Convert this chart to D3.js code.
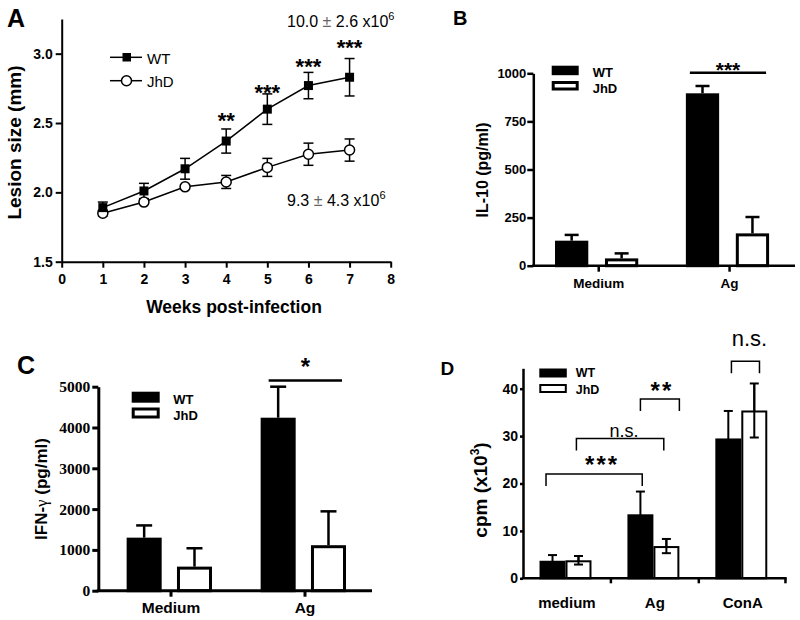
<!DOCTYPE html>
<html><head><meta charset="utf-8">
<script src="https://cdn.jsdelivr.net/npm/d3@7"></script>
<style>body{margin:0;background:#fff} svg{display:block;background:#fff}</style>
</head><body><svg id="c" width="800" height="620"></svg>
<script>
// ---------- Panel A data ----------
const weeks = [1, 2, 3, 4, 5, 6, 7];
const wtLesion = [1.89, 2.01, 2.17, 2.37, 2.60, 2.77, 2.83];
const wtLesionErr = [0.04, 0.055, 0.075, 0.087, 0.11, 0.095, 0.135];
const jhdLesion = [1.85, 1.93, 2.04, 2.075, 2.18, 2.275, 2.305];
const jhdLesionErr = [0.02, 0.015, 0.015, 0.047, 0.065, 0.08, 0.08];
const sigWeeks = [4, 5, 6, 7];
const sigLabelsA = ["**", "***", "***", "***"];
const sigLevelsA = [2.55, 2.75, 2.94, 3.075];
const xTicksA = [0, 1, 2, 3, 4, 5, 6, 7, 8];
const yTicksA = [1.5, 2.0, 2.5, 3.0];

// ---------- Panel B data ----------
const catsB = ["Medium", "Ag"];
const wtIL10 = [130, 896];
const wtIL10Err = [30, 38];
const jhdIL10 = [38, 168];
const jhdIL10Err = [26, 85];
const yTicksB = [0, 250, 500, 750, 1000];

// ---------- Panel C data ----------
const catsC = ["Medium", "Ag"];
const wtIFN = [1300, 4240];
const wtIFNErr = [300, 760];
const jhdIFN = [590, 1115];
const jhdIFNErr = [450, 830];
const yTicksC = [0, 1000, 2000, 3000, 4000, 5000];

// ---------- Panel D data ----------
const catsD = ["medium", "Ag", "ConA"];
const wtCpm = [3.7, 13.5, 29.5];
const wtCpmErr = [1.2, 4.8, 5.8];
const jhdCpm = [3.8, 6.8, 35.4];
const jhdCpmErr = [0.9, 1.5, 5.7];
const yTicksD = [0, 10, 20, 30, 40];

const groups = ["WT", "JhD"];
const SANS = "'Liberation Sans', Arial, Helvetica, sans-serif";
const SERIF = "'Liberation Serif', 'Times New Roman', serif";

const svg = d3.select("#c");

function styleAxis(g, sw, font, size, weight) {
  g.attr("font-family", null).attr("font-size", null);
  g.select(".domain").attr("stroke-width", sw).attr("stroke", "#000");
  g.selectAll(".tick line").attr("stroke-width", sw).attr("stroke", "#000");
  g.selectAll(".tick text").attr("font-family", font).attr("font-size", size)
    .attr("font-weight", weight).attr("fill", "#000");
}

function txt(g, x, y, s, size, weight, anchor, font) {
  return g.append("text").attr("x", x).attr("y", y).text(s)
    .attr("font-family", font || SANS).attr("font-size", size)
    .attr("font-weight", weight || "normal").attr("text-anchor", anchor || "start").attr("fill", "#000");
}

// ================= PANEL A =================
(function () {
  const g = svg.append("g");
  const x = d3.scaleLinear([0, 8], [61.7, 390.7]);
  const y = d3.scaleLinear([1.5, 3.25], [261.7, 19]);

  const ax = g.append("g").attr("transform", "translate(0,261.7)")
    .call(d3.axisBottom(x).tickValues(xTicksA).tickFormat(d3.format("d")).tickSize(6).tickPadding(6).tickSizeOuter(0));
  styleAxis(ax, 2, SANS, 14, "bold");
  const ay = g.append("g").attr("transform", "translate(61.7,0)")
    .call(d3.axisLeft(y).tickValues(yTicksA).tickFormat(d3.format(".1f")).tickSize(6).tickPadding(3).tickSizeOuter(0));
  styleAxis(ay, 2, SANS, 14, "bold");

  const line = d3.line().x((d, i) => x(weeks[i])).y(d => y(d));
  const series = [
    { v: jhdLesion, e: jhdLesionErr, kind: "circle" },
    { v: wtLesion, e: wtLesionErr, kind: "square" }
  ];
  series.forEach(s => {
    weeks.forEach((w, i) => {
      const cx = x(w), y1 = y(s.v[i] - s.e[i]), y2 = y(s.v[i] + s.e[i]);
      g.append("line").attr("x1", cx).attr("x2", cx).attr("y1", y1).attr("y2", y2).attr("stroke", "#000").attr("stroke-width", 1.5);
      [y1, y2].forEach(yy => g.append("line").attr("x1", cx - 5).attr("x2", cx + 5).attr("y1", yy).attr("y2", yy).attr("stroke", "#000").attr("stroke-width", 1.5));
    });
    g.append("path").attr("d", line(s.v)).attr("fill", "none").attr("stroke", "#000").attr("stroke-width", 1.5);
  });
  series.forEach(s => {
    weeks.forEach((w, i) => {
      if (s.kind === "square") {
        g.append("rect").attr("x", x(w) - 4.5).attr("y", y(s.v[i]) - 4.5).attr("width", 9).attr("height", 9).attr("fill", "#000");
      } else {
        g.append("circle").attr("cx", x(w)).attr("cy", y(s.v[i])).attr("r", 5).attr("fill", "#fff").attr("stroke", "#000").attr("stroke-width", 1.5);
      }
    });
  });

  sigWeeks.forEach((w, i) => {
    txt(g, x(w), y(sigLevelsA[i]), sigLabelsA[i], 22, "bold", "middle").attr("dy", "0.55em");
  });

  // legend
  g.append("line").attr("x1", 110).attr("x2", 142).attr("y1", 57.3).attr("y2", 57.3).attr("stroke", "#000").attr("stroke-width", 1.5);
  g.append("rect").attr("x", 122.5).attr("y", 53).attr("width", 8.5).attr("height", 8.5).attr("fill", "#000");
  txt(g, 147, 63.5, "WT", 15);
  g.append("line").attr("x1", 110).attr("x2", 142).attr("y1", 80.7).attr("y2", 80.7).attr("stroke", "#000").attr("stroke-width", 1.5);
  g.append("circle").attr("cx", 126.5).attr("cy", 80.7).attr("r", 5).attr("fill", "#fff").attr("stroke", "#000").attr("stroke-width", 1.5);
  txt(g, 147, 87, "JhD", 15);

  // annotations
  const t1 = txt(g, 287, 27, "10.0 ", 16);
  t1.append("tspan").attr("fill", "#666").text("±");
  t1.append("tspan").text(" 2.6 x10");
  t1.append("tspan").attr("font-size", 11).attr("dy", -7).text("6");
  const t2 = txt(g, 287, 205.5, "9.3 ", 16);
  t2.append("tspan").attr("fill", "#666").text("±");
  t2.append("tspan").text(" 4.3 x10");
  t2.append("tspan").attr("font-size", 11).attr("dy", -7).text("6");

  txt(g, 7, 27, "A", 25, "bold");
  txt(g, 0, 0, "Lesion size (mm)", 19, "bold", "middle").attr("transform", "translate(20.5,142.5) rotate(-90)");
  txt(g, 234, 313, "Weeks post-infection", 17.5, "bold", "middle");
})();

// ================= BAR PANELS =================
function barPanel(c) {
  const g = svg.append("g");
  const x = d3.scaleBand(c.cats, c.xRange);
  const bw = x.bandwidth();
  const xi = d3.scaleBand(groups, [bw * c.inner[0], bw * c.inner[1]]).paddingInner(c.pad);
  const y = d3.scaleLinear(c.yDomain, c.yRange);
  const y0 = y(0);
  const rows = [];
  c.cats.forEach((cat, i) => {
    rows.push({ cat, grp: "WT", v: c.wt[i], e: c.wtErr[i] });
    rows.push({ cat, grp: "JhD", v: c.jhd[i], e: c.jhdErr[i] });
  });
  const bx = d => x(d.cat) + xi(d.grp);
  const cxf = d => bx(d) + xi.bandwidth() / 2;

  rows.forEach(d => {
    const cx = cxf(d);
    const yTop = y(d.v + d.e);
    const yBot = c.twoSided ? y(d.v - d.e) : y(d.v);
    g.append("line").attr("x1", cx).attr("x2", cx).attr("y1", yBot).attr("y2", yTop).attr("stroke", "#000").attr("stroke-width", c.errW);
    g.append("line").attr("x1", cx - c.cap / 2).attr("x2", cx + c.cap / 2).attr("y1", yTop).attr("y2", yTop).attr("stroke", "#000").attr("stroke-width", c.errW);
  });
  g.selectAll("rect.bar").data(rows).join("rect").attr("class", "bar")
    .attr("x", d => bx(d) + c.barSW / 2)
    .attr("width", xi.bandwidth() - c.barSW)
    .attr("y", d => y(d.v) + c.barSW / 2)
    .attr("height", d => Math.max(0, y0 - y(d.v) - c.barSW / 2))
    .attr("fill", d => d.grp === "WT" ? "#000" : "#fff")
    .attr("stroke", "#000").attr("stroke-width", c.barSW);
  rows.forEach(d => {
    const cx = cxf(d);
    const yTop = y(d.v + d.e);
    if (c.twoSided && d.grp === "JhD") {
      const yBot = y(d.v - d.e);
      g.append("line").attr("x1", cx).attr("x2", cx).attr("y1", yBot).attr("y2", yTop).attr("stroke", "#000").attr("stroke-width", c.errW);
      g.append("line").attr("x1", cx - c.cap / 2).attr("x2", cx + c.cap / 2).attr("y1", yBot).attr("y2", yBot).attr("stroke", "#000").attr("stroke-width", c.errW);
    }
  });

  const ay = g.append("g").attr("transform", `translate(${c.axisX},0)`)
    .call(d3.axisLeft(y).tickValues(c.yTicks).tickFormat(d3.format("d")).tickSize(c.yTick).tickPadding(c.yPad).tickSizeOuter(0));
  styleAxis(ay, c.axisW, c.tickFont, c.tickSize, "bold");
  g.append("line").attr("x1", c.axisX - c.axisW / 2).attr("x2", c.xRange[1]).attr("y1", y0).attr("y2", y0)
    .attr("stroke", "#000").attr("stroke-width", c.axisW);
  const tickXs = c.tickAtEdges
    ? c.cats.slice(1).map(cat => x(cat)).concat([c.xRange[1] - c.axisW / 2])
    : c.cats.map(cat => x(cat) + bw / 2);
  tickXs.forEach(tx => g.append("line").attr("x1", tx).attr("x2", tx).attr("y1", y0).attr("y2", y0 + c.xTick)
    .attr("stroke", "#000").attr("stroke-width", c.axisW));
  c.cats.forEach(cat => txt(g, x(cat) + bw / 2, c.catY, cat, c.catSize, "bold", "middle"));

  const L = c.legend;
  groups.forEach((grp, i) => {
    g.append("rect").attr("x", L.x + L.sw / 2).attr("y", L.ys[i] + L.sw / 2).attr("width", L.w - L.sw).attr("height", L.h - L.sw)
      .attr("fill", grp === "WT" ? "#000" : "#fff").attr("stroke", "#000").attr("stroke-width", L.sw);
    txt(g, L.tx, L.tys[i], grp, L.size, "bold");
  });
  return { g, x, xi, y, bw };
}

// ---------- B ----------
(function () {
  const p = barPanel({
    cats: catsB, wt: wtIL10, wtErr: wtIL10Err, jhd: jhdIL10, jhdErr: jhdIL10Err,
    xRange: [533.3, 795], inner: [0.166, 0.802], pad: 0.334,
    yDomain: [0, 1000], yRange: [265.7, 73.3], yTicks: yTicksB,
    axisX: 533.3, axisW: 2.5, yTick: 6, yPad: 1, xTick: 6, tickFont: SANS, tickSize: 13,
    barSW: 3, errW: 2.5, cap: 14, twoSided: false,
    catY: 288, catSize: 13.5,
    legend: { x: 551.7, w: 27, h: 9.5, sw: 3, ys: [65.7, 81], tx: 592.7, tys: [77.3, 92.5], size: 13 }
  });
  const { g, x, xi, y } = p;
  const x1 = x("Ag") + xi("WT") + 4, x2 = x("Ag") + xi("JhD") + xi.bandwidth() - 3;
  g.append("line").attr("x1", x1).attr("x2", x2).attr("y1", y(1003)).attr("y2", y(1003)).attr("stroke", "#000").attr("stroke-width", 2.5);
  txt(g, (x1 + x2) / 2, y(1040), "***", 21, "bold", "middle").attr("dy", "0.55em");
  txt(g, 453, 25, "B", 20, "bold");
  txt(g, 0, 0, "IL-10 (pg/ml)", 16, "bold", "middle").attr("transform", "translate(488,170) rotate(-90)");
})();

// ---------- C ----------
(function () {
  const p = barPanel({
    cats: catsC, wt: wtIFN, wtErr: wtIFNErr, jhd: jhdIFN, jhdErr: jhdIFNErr,
    xRange: [104, 372], inner: [0.169, 0.806], pad: 0.304,
    yDomain: [0, 5000], yRange: [590.7, 386.7], yTicks: yTicksC,
    axisX: 98.3, axisW: 3, yTick: 6, yPad: 2, xTick: 6, tickFont: SERIF, tickSize: 15.5,
    barSW: 3, errW: 2.5, cap: 16, twoSided: false,
    catY: 613.3, catSize: 15.5,
    legend: { x: 131.7, w: 28, h: 11, sw: 3, ys: [391.7, 407.5], tx: 173.3, tys: [404, 420], size: 13 }
  });
  const { g, x, xi, y } = p;
  const x1 = x("Ag") + xi("WT") + 8, x2 = x("Ag") + xi("JhD") + xi.bandwidth() - 4;
  g.append("line").attr("x1", x1).attr("x2", x2).attr("y1", y(5150)).attr("y2", y(5150)).attr("stroke", "#000").attr("stroke-width", 2.5);
  txt(g, (x1 + x2) / 2, y(5610), "*", 24, "bold", "middle").attr("dy", "0.55em");
  txt(g, 17, 374, "C", 25, "bold");
  const t = txt(g, 0, 0, "IFN-", 17, "bold", "middle").attr("transform", "translate(47,489) rotate(-90)");
  t.append("tspan").attr("font-weight", "normal").attr("font-family", SERIF).text("γ");
  t.append("tspan").text(" (pg/ml)");
})();

// ---------- D ----------
(function () {
  const p = barPanel({
    cats: catsD, wt: wtCpm, wtErr: wtCpmErr, jhd: jhdCpm, jhdErr: jhdCpmErr,
    xRange: [523, 786.7], inner: [0.188, 0.779], pad: 0,
    yDomain: [0, 44.3], yRange: [578.3, 368.3], yTicks: yTicksD,
    axisX: 523, axisW: 2.5, yTick: 3, yPad: 2, xTick: 5, tickFont: SANS, tickSize: 14,
    barSW: 2, errW: 2, cap: 9, twoSided: true, tickAtEdges: true,
    catY: 608.3, catSize: 15,
    legend: { x: 539.3, w: 27.5, h: 9, sw: 2, ys: [368.5, 384], tx: 575.7, tys: [377, 394], size: 12.5 }
  });
  const { g, x, xi, y } = p;
  const bxAt = (cat, grp, f) => x(cat) + xi(grp) + f * xi.bandwidth();
  const brackets = [
    { a: ["medium", "WT", 0.25], b: ["Ag", "WT", 0.57], level: 22.0, label: "***", size: 24, weight: "bold", tl: 25.0, dx: 8, ls: 2 },
    { a: ["medium", "JhD", 0.42], b: ["Ag", "JhD", 0.4], level: 29.5, label: "n.s.", size: 18, weight: "normal", tl: 29.9, dx: 4, ls: 0, base: true },
    { a: ["Ag", "WT", 0.5], b: ["Ag", "JhD", 1.0], level: 37.8, label: "**", size: 24, weight: "bold", tl: 40.6, dx: 2, ls: 2 },
    { a: ["ConA", "WT", 0.62], b: ["ConA", "JhD", 0.7], level: 45.8, label: "n.s.", size: 22, weight: "normal", tl: 49.0, dx: 4, ls: 0, base: true }
  ];
  brackets.forEach(bk => {
    const x1 = bxAt(...bk.a), x2 = bxAt(...bk.b), yy = y(bk.level);
    g.append("path").attr("d", `M${x1},${yy + 12}V${yy}H${x2}V${yy + 12}`)
      .attr("fill", "none").attr("stroke", "#000").attr("stroke-width", 1.5);
    const t = txt(g, (x1 + x2) / 2 + bk.dx, y(bk.tl), bk.label, bk.size, bk.weight, "middle").attr("letter-spacing", bk.ls);
    if (!bk.base) t.attr("dy", "0.55em");
  });
  txt(g, 440.5, 375, "D", 19, "bold");
  const t = txt(g, 0, 0, "cpm (x10", 19, "bold", "middle").attr("transform", "translate(487,490) rotate(-90)");
  t.append("tspan").attr("font-size", 12).attr("dy", -8).text("3");
  t.append("tspan").attr("dy", 8).text(")");
})();
</script>
</body></html>
